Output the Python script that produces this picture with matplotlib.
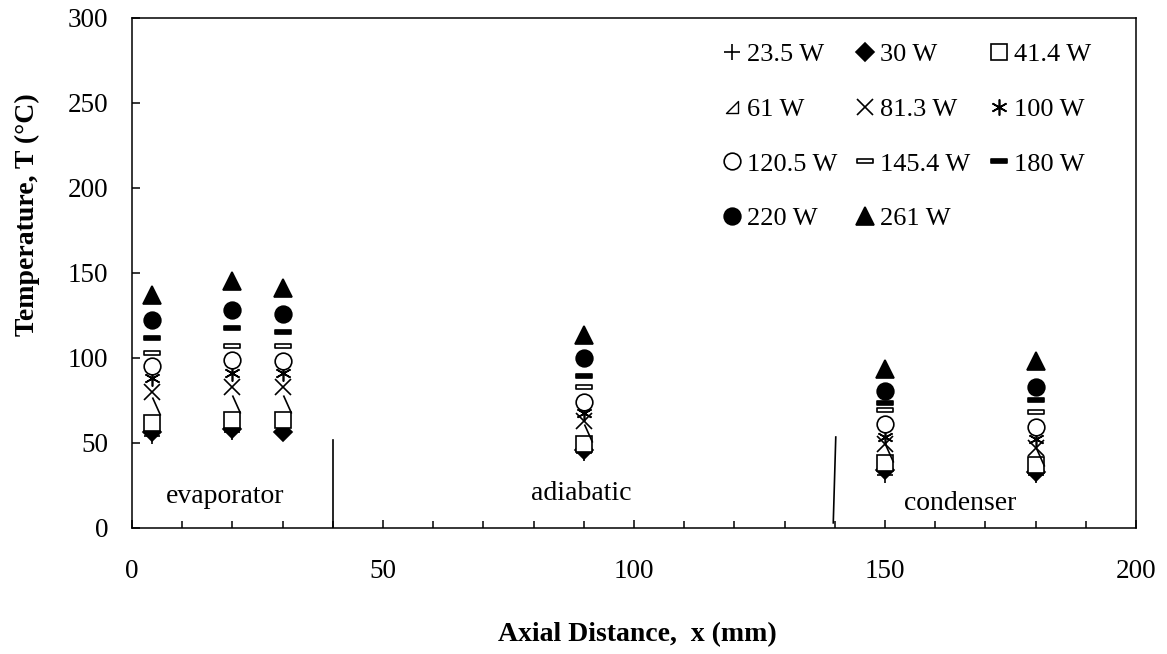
import matplotlib
matplotlib.use('Agg')
import matplotlib.pyplot as plt
from matplotlib.path import Path
from matplotlib.lines import Line2D
from matplotlib.ticker import MultipleLocator

plt.rcParams['font.family'] = ['Liberation Serif', 'DejaVu Serif']

# axial positions of thermocouples (mm)
x_mm = [4, 20, 30, 90, 150, 180]

# temperatures (deg C) per heat input
t_23_5 = [54, 56.5, 56, 44, 31, 31]
t_30 = [56.5, 58.5, 56.5, 46, 34, 33]
t_41_4 = [61.5, 63.5, 63.5, 49.5, 38.5, 37]
t_61 = [72, 73, 73, 56, 44, 42]
t_81_3 = [80, 83, 83, 63, 49.5, 47]
t_100 = [88, 91, 91, 67.5, 53.5, 52.5]
t_120_5 = [95, 99, 98, 74, 61, 59.5]
t_145_4 = [103, 107, 107, 83, 69.5, 68.5]
t_180 = [112, 117.5, 115.5, 89.5, 73.5, 75.5]
t_220 = [122.5, 128, 126, 100, 80.5, 83]
t_261 = [137, 145, 141, 113.5, 93.5, 98.5]

labels = ['23.5 W', '30 W', '41.4 W', '61 W', '81.3 W', '100 W',
          '120.5 W', '145.4 W', '180 W', '220 W', '261 W']
series = [t_23_5, t_30, t_41_4, t_61, t_81_3, t_100,
          t_120_5, t_145_4, t_180, t_220, t_261]

# section labels
sections = ['evaporator', 'adiabatic', 'condenser']
sec_x = [18.5, 89.5, 165]
sec_y = [18.5, 20.5, 14.5]

bar = Path([(-1, -0.3), (1, -0.3), (1, 0.3), (-1, 0.3), (-1, -0.3)],
           [Path.MOVETO, Path.LINETO, Path.LINETO, Path.LINETO, Path.CLOSEPOLY])
slash = Path([(0, 0.5), (0.45, -0.5)], [Path.MOVETO, Path.LINETO])
tri_leg = Path([(-0.5, -0.5), (0.5, -0.5), (0.5, 0.5), (-0.5, -0.5)],
               [Path.MOVETO, Path.LINETO, Path.LINETO, Path.CLOSEPOLY])

styles = [
    dict(marker='+', ms=11, mfc='black'),
    dict(marker='D', ms=9.5, mfc='black'),
    dict(marker='s', ms=11.5, mfc='white'),
    dict(marker=slash, ms=13, mfc='none'),
    dict(marker='x', ms=11, mfc='black'),
    dict(marker=(6, 2, 0), ms=11.5, mfc='black'),
    dict(marker='o', ms=12, mfc='white'),
    dict(marker=bar, ms=11.5, mfc='white'),
    dict(marker=bar, ms=11.5, mfc='black'),
    dict(marker='o', ms=12, mfc='black'),
    dict(marker='^', ms=12.5, mfc='black'),
]

fig = plt.figure(figsize=(11.67, 6.54), dpi=100)
ax = fig.add_axes([0.1131, 0.1927, 0.8603, 0.7798])

handles = []
for y, lab, st in zip(series, labels, styles):
    h, = ax.plot(x_mm, y, linestyle='none', color='black', mec='black',
                 mew=1.2, label=lab, **st)
    handles.append(h)

# legend glyph for 61 W
handles[3] = Line2D([], [], linestyle='none', marker=tri_leg, ms=9,
                    mfc='none', mec='black', mew=1.0)

# section dividers
ax.plot([40, 40], [0, 52], color='black', lw=1.2)
ax.plot([140.2, 139.7], [53.5, 3], color='black', lw=1.2)

for s, sx, sy in zip(sections, sec_x, sec_y):
    ax.text(sx, sy, s, ha='center', va='center', fontsize=20)

ax.set_xlim(0, 200)
ax.set_ylim(0, 300)
ax.xaxis.set_major_locator(MultipleLocator(50))
ax.xaxis.set_minor_locator(MultipleLocator(10))
ax.yaxis.set_major_locator(MultipleLocator(50))
ax.tick_params(axis='both', which='both', direction='in', top=False, right=False,
               width=1.1, labelsize=19.5)
ax.tick_params(axis='both', which='major', length=6)
ax.tick_params(axis='x', which='minor', length=5)
ax.tick_params(axis='x', which='major', pad=22)
ax.tick_params(axis='y', which='major', pad=17)
for sp in ax.spines.values():
    sp.set_linewidth(1.1)

ax.set_xlabel('Axial Distance,  x (mm)', fontsize=20, fontweight='bold')
ax.set_ylabel('Temperature, T (°C)', fontsize=20, fontweight='bold')
ax.xaxis.set_label_coords(0.503, -0.184)
ax.yaxis.set_label_coords(-0.092, 0.614)

order = [0, 3, 6, 9, 1, 4, 7, 10, 2, 5, 8]
ax.legend([handles[i] for i in order], [labels[i] for i in order], ncol=3,
          loc='upper right', bbox_to_anchor=(0.955, 0.951), frameon=False,
          fontsize=19, labelspacing=1.18, handlelength=0.7, handletextpad=0.22,
          columnspacing=0.71, borderpad=0, borderaxespad=0)

fig.savefig('out.png', dpi=100)
